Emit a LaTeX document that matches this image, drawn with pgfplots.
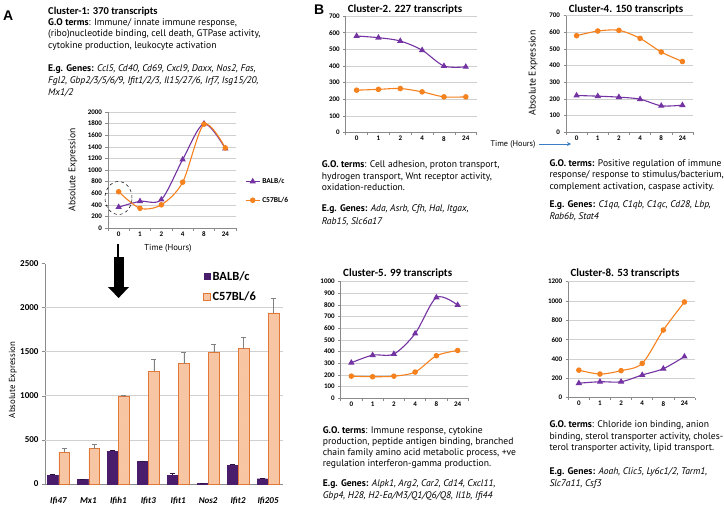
\documentclass[border=0pt]{standalone}
\usepackage{pgfplots}
\usepackage{pgfplotstable}
\pgfplotsset{compat=1.18}
\usepackage{fontspec}
\setmainfont{PT Sans}
\newfontfamily\calibri{Carlito}
\newfontfamily\arialf{Liberation Sans}
\usetikzlibrary{patterns,arrows.meta}
\definecolor{purp}{HTML}{7433A2}
\definecolor{oran}{HTML}{F5821F}
\definecolor{barpurp}{HTML}{4A1C6C}
\definecolor{barorfill}{HTML}{FAC8A2}
\definecolor{barorline}{HTML}{E2773A}
\definecolor{gridgray}{HTML}{D0D0D0}
\definecolor{axgray}{HTML}{8A8A8A}
\definecolor{arrblue}{HTML}{3B7DC4}

\newcommand\bodyf{\fontsize{9.6pt}{11pt}\selectfont}
\newcommand\titf{\calibri\bfseries\fontsize{11pt}{13pt}\selectfont}

\pgfplotsset{
  every axis/.append style={/pgf/number format/assume math mode=true, /pgf/number format/1000 sep={}},
  clus/.style={
    scale only axis, anchor=south west,
    xmin=-0.5, xmax=5.5, ymin=0,
    axis x line*=bottom, axis y line*=left,
    axis line style={axgray, line width=0.7pt},
    tick align=outside, major tick length=2.5pt,
    tick style={axgray, line width=0.6pt},
    xtick={-0.5,0.5,...,5.5}, xticklabels={},
    extra x ticks={0,1,2,3,4,5}, extra x tick labels={0,1,2,4,8,24},
    extra x tick style={major tick length=0pt},
    ymajorgrids, major grid style={gridgray, line width=0.6pt},
    tick label style={font=\calibri\bfseries\fontsize{7}{8}\selectfont, black},
    clip=false,
  },
  balb/.style={color=purp, line width=1.1pt, smooth, mark=triangle*, mark size=2.6pt, mark options={solid}},
  c57/.style={color=oran, line width=1.1pt, smooth, mark=*, mark size=2.2pt, mark options={solid}},
}

\pgfplotstableread{
x b be o oe
0 100 15 360 45
1 50 6 400 48
2 370 15 990 20
3 255 5 1280 135
4 100 20 1365 133
5 8 0 1495 95
6 215 8 1536 132
7 60 10 1940 170
}\bardata

\begin{document}
\begin{tikzpicture}
\useasboundingbox (0pt,0pt) rectangle (724pt,-506pt);
\fill[white] (0pt,0pt) rectangle (724pt,-506pt);

% ---------------- Panel letters
\node[anchor=base west, inner sep=0pt, font=\arialf\bfseries\fontsize{14pt}{16pt}\selectfont] at (3pt,-20pt) {A};
\node[anchor=base west, inner sep=0pt, font=\arialf\bfseries\fontsize{14pt}{16pt}\selectfont] at (314pt,-15pt) {B};

% ---------------- Panel A text
\node[anchor=base west, inner sep=0pt, font=\calibri\bfseries\fontsize{10.5pt}{12pt}\selectfont] at (48pt,-14pt) {Cluster-1: 370 transcripts};
\node[anchor=base west, inner sep=0pt, font=\bodyf] at (48pt,-25.5pt) {\textbf{G.O terms}: Immune/ innate immune response,};
\node[anchor=base west, inner sep=0pt, font=\bodyf] at (48pt,-37pt) {(ribo)nucleotide binding, cell death, GTPase activity,};
\node[anchor=base west, inner sep=0pt, font=\bodyf] at (48pt,-48.5pt) {cytokine production, leukocyte activation};
\node[anchor=base west, inner sep=0pt, font=\bodyf] at (48pt,-71.5pt) {\textbf{E.g. Genes:} \textit{Ccl5, Cd40, Cd69, Cxcl9, Daxx, Nos2, Fas,}};
\node[anchor=base west, inner sep=0pt, font=\bodyf] at (48pt,-83.5pt) {\textit{Fgl2, Gbp2/3/5/6/9, Ifit1/2/3, Il15/27/6, Irf7, Isg15/20,}};
\node[anchor=base west, inner sep=0pt, font=\bodyf] at (48pt,-95.5pt) {\textit{Mx1/2}};

% ---------------- Cluster-1 line chart
\begin{axis}[clus, at={(108pt,-228pt)}, width=128pt, height=116pt,
  ymax=2000, ytick={0,200,...,2000},
  legend style={at={(1.07,0.32)}, anchor=west, draw=none, fill=none, inner sep=0pt,
    font=\calibri\bfseries\fontsize{7.5}{8}\selectfont, row sep=8pt, cells={anchor=west}},
  legend image code/.code={\draw[#1, mark repeat=2, mark phase=2] plot coordinates {(0pt,0pt) (7pt,0pt) (14pt,0pt)};},
]
\addplot[balb] coordinates {(0,360) (1,460) (2,490) (3,1180) (4,1800) (5,1370)};
\addlegendentry{BALB/c}
\addplot[c57] coordinates {(0,625) (1,340) (2,400) (3,790) (4,1790) (5,1380)};
\addlegendentry{C57BL/6}
\end{axis}
\node[rotate=90, font=\fontsize{9.6pt}{11pt}\selectfont] at (73pt,-170pt) {Absolute Expression};
\node[font=\fontsize{8.6pt}{10pt}\selectfont] at (168pt,-248pt) {Time (Hours)};
\draw[dashed, black, line width=0.5pt] (118.5pt,-198pt) ellipse [x radius=13.5pt, y radius=16.5pt];

% black arrow
\fill[black] (117.4pt,-244pt) rectangle (119.3pt,-258pt);
\fill[black] (113.5pt,-257pt) rectangle (124pt,-287.5pt);
\fill[black] (108pt,-287pt) -- (129pt,-287pt) -- (118.6pt,-298pt) -- cycle;

% ---------------- Bar chart
\begin{axis}[
  at={(45pt,-484pt)}, anchor=south west, scale only axis, width=238pt, height=220.4pt,
  xmin=-0.45, xmax=7.5, ymin=0, ymax=2500,
  ybar=0.8pt, bar width=10.5pt,
  axis x line*=bottom, axis y line*=left,
  axis line style={axgray, line width=0.8pt},
  tick align=outside, major tick length=3pt, tick style={axgray, line width=0.6pt},
  xtick=\empty,
  extra x ticks={0,1,2,3,4,5,6,7},
  extra x tick labels={Ifi47,Mx1,Ifih1,Ifit3,Ifit1,Nos2,Ifit2,Ifi205},
  extra x tick style={major tick length=0pt, tick label style={font=\calibri\bfseries\itshape\fontsize{9}{10}\selectfont, yshift=-10pt}},
  ytick={0,500,...,2500},
  y tick label style={font=\calibri\bfseries\fontsize{9}{10}\selectfont},
  extra y ticks={500,1000,1500,2000}, extra y tick labels={},
  extra y tick style={grid=major, major tick length=0pt},
  major grid style={gridgray, line width=0.7pt},
  legend style={at={(0.665,0.896)}, anchor=west, draw=none, fill=none, inner sep=0pt,
    font=\calibri\bfseries\fontsize{12.5}{14}\selectfont, row sep=6pt, cells={anchor=west}},
  legend image code/.code={\draw[#1] (0pt,-3.2pt) rectangle (6.5pt,3.2pt);},
]
\addplot[fill=barpurp, draw=barpurp,
  error bars/.cd, y dir=plus, y explicit,
  error bar style={barpurp!60!black, line width=0.6pt},
  error mark options={rotate=90, mark size=2.5pt, barpurp!60!black, line width=0.6pt}]
  table[x=x, y=b, y error=be] {\bardata};
\addlegendentry{BALB/c}
\addplot[fill=barorfill, draw=barorline, line width=0.6pt,
  postaction={pattern=north east lines, pattern color=barorline!45},
  error bars/.cd, y dir=plus, y explicit,
  error bar style={gray, line width=0.6pt},
  error mark options={rotate=90, mark size=2.5pt, gray, line width=0.6pt}]
  table[x=x, y=o, y error=oe] {\bardata};
\addlegendentry{C57BL/6}
\end{axis}
\node[rotate=90, font=\fontsize{8.8pt}{10pt}\selectfont] at (13pt,-380pt) {Absolute Expression};

% ---------------- Cluster-2
\node[font=\titf] at (405pt,-10pt) {Cluster-2. 227 transcripts};
\begin{axis}[clus, at={(345.7pt,-132.7pt)}, width=131pt, height=116.7pt,
  ymax=700, ytick={0,100,...,700}]
\addplot[balb] coordinates {(0,580) (1,570) (2,550) (3,495) (4,400) (5,395)};
\addplot[c57] coordinates {(0,255) (1,260) (2,265) (3,245) (4,215) (5,215)};
\end{axis}
\node[anchor=base west, inner sep=0pt, font=\bodyf] at (321.7pt,-167.5pt) {\textbf{G.O. terms}: Cell adhesion, proton transport,};
\node[anchor=base west, inner sep=0pt, font=\bodyf] at (321.7pt,-179pt) {hydrogen transport, Wnt receptor activity,};
\node[anchor=base west, inner sep=0pt, font=\bodyf] at (321.7pt,-190.5pt) {oxidation-reduction.};
\node[anchor=base west, inner sep=0pt, font=\bodyf] at (321.7pt,-211pt) {\textbf{E.g. Genes:} \textit{Ada, Asrb, Cfh, Hal, Itgax,}};
\node[anchor=base west, inner sep=0pt, font=\bodyf] at (321.7pt,-224.5pt) {\textit{Rab15, Slc6a17}};

% ---------------- Cluster-4
\node[font=\titf] at (626pt,-10pt) {Cluster-4. 150 transcripts};
\begin{axis}[clus, at={(566pt,-132.3pt)}, width=127pt, height=116.6pt,
  ymax=700, ytick={0,100,...,700}]
\addplot[c57] coordinates {(0,580) (1,608) (2,612) (3,564) (4,482) (5,425)};
\addplot[balb] coordinates {(0,221) (1,217) (2,211) (3,199) (4,159) (5,163)};
\end{axis}
\node[rotate=90, font=\fontsize{9.8pt}{11pt}\selectfont] at (533pt,-73pt) {Absolute Expression};
\node[font=\fontsize{8.2pt}{10pt}\selectfont] at (513pt,-144pt) {Time (Hours)};
\draw[arrblue, line width=0.9pt, -{Stealth[length=4pt, width=4pt]}] (539pt,-144pt) -- (571pt,-144pt);
\node[anchor=base west, inner sep=0pt, font=\bodyf] at (549.3pt,-166.5pt) {\textbf{G.O. terms:} Positive regulation of immune};
\node[anchor=base west, inner sep=0pt, font=\bodyf] at (549.3pt,-177.8pt) {response/ response to stimulus/bacterium,};
\node[anchor=base west, inner sep=0pt, font=\bodyf] at (549.3pt,-189.2pt) {complement activation, caspase activity.};
\node[anchor=base west, inner sep=0pt, font=\bodyf] at (549.3pt,-207.8pt) {\textbf{E.g. Genes:} \textit{C1qa, C1qb, C1qc, Cd28, Lbp,}};
\node[anchor=base west, inner sep=0pt, font=\bodyf] at (549.3pt,-219.5pt) {\textit{Rab6b, Stat4}};

% ---------------- Cluster-5
\node[font=\titf] at (397.7pt,-274pt) {Cluster-5. 99 transcripts};
\begin{axis}[clus, at={(340.7pt,-398.3pt)}, width=127.6pt, height=116.6pt,
  ymax=1000, ytick={0,100,...,1000}]
\addplot[balb] coordinates {(0,305) (1,370) (2,380) (3,555) (4,865) (5,800)};
\addplot[c57] coordinates {(0,190) (1,185) (2,190) (3,225) (4,365) (5,410)};
\end{axis}
\node[anchor=base west, inner sep=0pt, font=\bodyf] at (322.7pt,-433.5pt) {\textbf{G.O. terms}: Immune response, cytokine};
\node[anchor=base west, inner sep=0pt, font=\bodyf] at (322.7pt,-444.5pt) {production, peptide antigen binding, branched};
\node[anchor=base west, inner sep=0pt, font=\bodyf] at (322.7pt,-455.8pt) {chain family amino acid metabolic process, +ve};
\node[anchor=base west, inner sep=0pt, font=\bodyf] at (322.7pt,-466.8pt) {regulation interferon-gamma production.};
\node[anchor=base west, inner sep=0pt, font=\bodyf] at (322.7pt,-486.8pt) {\textbf{E.g. Genes:} \textit{Alpk1, Arg2, Car2, Cd14, Cxcl11,}};
\node[anchor=base west, inner sep=0pt, font=\bodyf] at (322.7pt,-498.5pt) {\textit{Gbp4, H28, H2-Ea/M3/Q1/Q6/Q8, Il1b, Ifi44}};

% ---------------- Cluster-8
\node[font=\titf] at (625pt,-274pt) {Cluster-8. 53 transcripts};
\begin{axis}[clus, at={(568.3pt,-397.7pt)}, width=126.7pt, height=116pt,
  ymax=1200, ytick={0,200,...,1200}]
\addplot[c57] coordinates {(0,285) (1,245) (2,280) (3,355) (4,700) (5,990)};
\addplot[balb] coordinates {(0,150) (1,165) (2,165) (3,235) (4,300) (5,425)};
\end{axis}
\node[anchor=base west, inner sep=0pt, font=\bodyf] at (549.3pt,-427.8pt) {\textbf{G.O. terms}: Chloride ion binding, anion};
\node[anchor=base west, inner sep=0pt, font=\bodyf] at (549.3pt,-439.2pt) {binding, sterol transporter activity, choles-};
\node[anchor=base west, inner sep=0pt, font=\bodyf] at (549.3pt,-450.5pt) {terol transporter activity, lipid transport.};
\node[anchor=base west, inner sep=0pt, font=\bodyf] at (549.3pt,-474.5pt) {\textbf{E.g. Genes:} \textit{Aoah, Clic5, Ly6c1/2, Tarm1,}};
\node[anchor=base west, inner sep=0pt, font=\bodyf] at (549.3pt,-486.2pt) {\textit{Slc7a11, Csf3}};

\end{tikzpicture}
\end{document}
